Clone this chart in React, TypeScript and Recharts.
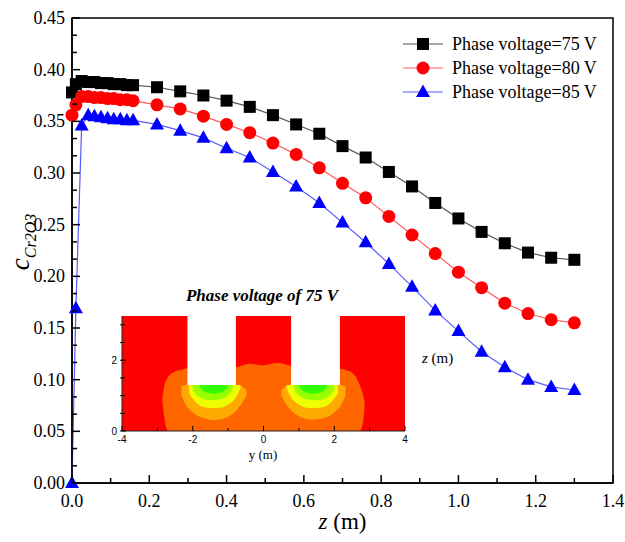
import React from 'react';
import { LineChart, Line, XAxis, YAxis, ReferenceArea, Legend, ComposedChart, Area } from 'recharts';

// main chart data
const zValues = [0, 0.01, 0.025, 0.042, 0.058, 0.075, 0.092, 0.108, 0.125, 0.142, 0.158,
  0.22, 0.28, 0.34, 0.4, 0.46, 0.52, 0.58, 0.64, 0.7, 0.76, 0.82, 0.88, 0.94, 1.0, 1.06, 1.12, 1.18, 1.24, 1.3];
const c75 = [0.378, 0.386, 0.389, 0.388, 0.388, 0.387, 0.387, 0.386, 0.386, 0.385, 0.385,
  0.383, 0.379, 0.375, 0.37, 0.364, 0.356, 0.347, 0.338, 0.326, 0.315, 0.301, 0.287, 0.271, 0.256, 0.243, 0.232, 0.223, 0.218, 0.216];
const c80 = [0.356, 0.366, 0.374, 0.374, 0.373, 0.373, 0.372, 0.372, 0.371, 0.371, 0.37,
  0.366, 0.362, 0.355, 0.347, 0.339, 0.329, 0.318, 0.305, 0.29, 0.276, 0.258, 0.24, 0.222, 0.204, 0.189, 0.174, 0.164, 0.158, 0.155];
const c85 = [0.0, 0.169, 0.346, 0.356, 0.355, 0.354, 0.353, 0.352, 0.352, 0.351, 0.351,
  0.347, 0.341, 0.334, 0.324, 0.315, 0.301, 0.287, 0.271, 0.252, 0.233, 0.212, 0.19, 0.167, 0.147, 0.127, 0.112, 0.1, 0.093, 0.09];
const seriesNames = ['Phase voltage=75 V', 'Phase voltage=80 V', 'Phase voltage=85 V'];

const xMajorTicks = [0, 0.2, 0.4, 0.6, 0.8, 1.0, 1.2, 1.4];
const yMajorTicks = [0, 0.05, 0.1, 0.15, 0.2, 0.25, 0.3, 0.35, 0.4, 0.45];

// inset contour regions (y in m, [z low, z high])
const insetRed = [{ x: -4, r: [0, 3.25] }, { x: 4, r: [0, 3.25] }];
const insetOrange = [
  { x: -2.86, r: [0.86, 0.9] }, { x: -2.8, r: [0.35, 1.3] }, { x: -2.7, r: [0, 1.52] },
  { x: -2.5, r: [0, 1.68] }, { x: -2.3, r: [0, 1.74] }, { x: -2.1, r: [0, 1.78] },
  { x: -0.8, r: [0, 1.8] }, { x: -0.4, r: [0, 1.9] }, { x: 0, r: [0, 1.86] },
  { x: 0.4, r: [0, 1.92] }, { x: 0.8, r: [0, 1.84] }, { x: 2.1, r: [0, 1.76] },
  { x: 2.35, r: [0, 1.72] }, { x: 2.6, r: [0, 1.55] }, { x: 2.72, r: [0, 1.3] },
  { x: 2.82, r: [0.3, 1.0] }, { x: 2.86, r: [0.7, 0.8] },
];
const amberLeft = [
  { x: -2.32, r: [1.0, 1.25] }, { x: -2.2, r: [0.75, 1.3] }, { x: -2.0, r: [0.52, 1.3] },
  { x: -1.7, r: [0.36, 1.3] }, { x: -1.4, r: [0.31, 1.3] }, { x: -1.1, r: [0.36, 1.3] },
  { x: -0.8, r: [0.55, 1.3] }, { x: -0.6, r: [0.8, 1.25] }, { x: -0.48, r: [1.0, 1.15] },
];
const amberRight = [
  { x: 0.5, r: [1.0, 1.15] }, { x: 0.62, r: [0.78, 1.25] }, { x: 0.82, r: [0.55, 1.3] },
  { x: 1.1, r: [0.37, 1.3] }, { x: 1.4, r: [0.32, 1.3] }, { x: 1.7, r: [0.36, 1.3] },
  { x: 2.0, r: [0.52, 1.3] }, { x: 2.2, r: [0.75, 1.3] }, { x: 2.32, r: [1.0, 1.25] },
];
const yellowLeft = [
  { x: -2.1, r: [1.05, 1.3] }, { x: -1.9, r: [0.8, 1.3] }, { x: -1.6, r: [0.66, 1.3] },
  { x: -1.3, r: [0.65, 1.3] }, { x: -1.0, r: [0.75, 1.3] }, { x: -0.75, r: [1.0, 1.3] }, { x: -0.65, r: [1.22, 1.3] },
];
const yellowRight = [
  { x: 0.65, r: [1.22, 1.3] }, { x: 0.75, r: [1.0, 1.3] }, { x: 1.0, r: [0.75, 1.3] },
  { x: 1.3, r: [0.65, 1.3] }, { x: 1.6, r: [0.66, 1.3] }, { x: 1.9, r: [0.8, 1.3] }, { x: 2.1, r: [1.05, 1.3] },
];
const limeLeft = [
  { x: -2.0, r: [1.15, 1.3] }, { x: -1.8, r: [0.95, 1.3] }, { x: -1.5, r: [0.87, 1.3] },
  { x: -1.2, r: [0.9, 1.3] }, { x: -0.95, r: [1.05, 1.3] }, { x: -0.85, r: [1.25, 1.3] },
];
const limeRight = [
  { x: 0.85, r: [1.25, 1.3] }, { x: 0.95, r: [1.05, 1.3] }, { x: 1.2, r: [0.9, 1.3] },
  { x: 1.5, r: [0.87, 1.3] }, { x: 1.8, r: [0.95, 1.3] }, { x: 2.0, r: [1.15, 1.3] },
];
const greenLeft = [
  { x: -1.8, r: [1.25, 1.3] }, { x: -1.65, r: [1.1, 1.3] }, { x: -1.4, r: [1.05, 1.3] },
  { x: -1.15, r: [1.1, 1.3] }, { x: -1.0, r: [1.28, 1.3] },
];
const greenRight = [
  { x: 1.0, r: [1.28, 1.3] }, { x: 1.15, r: [1.1, 1.3] }, { x: 1.4, r: [1.05, 1.3] },
  { x: 1.65, r: [1.1, 1.3] }, { x: 1.8, r: [1.25, 1.3] },
];
const slotLeft = [{ x: -2.15, r: [1.3, 3.3] }, { x: -0.78, r: [1.3, 3.3] }];
const slotRight = [{ x: 0.78, r: [1.3, 3.3] }, { x: 2.16, r: [1.3, 3.3] }];
const insetXTicks = [-4, -3, -2, -1, 0, 1, 2, 3, 4];
const insetYTicks = [0, 0.5, 1, 1.5, 2, 2.5, 3];

const data = zValues.map((z, i) => ({ z, v75: c75[i], v80: c80[i], v85: c85[i] }));

const xTicks = xMajorTicks.flatMap((t, i) => (i === 0 ? [t] : [(xMajorTicks[i - 1] + t) / 2, t]));
const yTicks = yMajorTicks.flatMap((t, i) => {
  if (i === 0) return [t];
  const p = yMajorTicks[i - 1];
  const d = (t - p) / 3;
  return [p + d, p + 2 * d, t];
});
const isIn = (v: number, list: number[]) => list.some((m) => Math.abs(m - v) < 1e-9);

const serif = 'Liberation Serif, serif';
const sans = 'Liberation Sans, sans-serif';

const XTick = (p: any) => {
  const major = isIn(p.payload.value, xMajorTicks);
  return (
    <g>
      <line x1={p.x} x2={p.x} y1={p.y} y2={p.y - (major ? 8 : 5)} stroke="#000" strokeWidth={1.5} />
      {major && (
        <text x={p.x} y={p.y + 24} textAnchor="middle" style={{ fontFamily: serif, fontSize: 18 }} fill="#000">
          {p.payload.value.toFixed(1)}
        </text>
      )}
    </g>
  );
};

const YTick = (p: any) => {
  const major = isIn(p.payload.value, yMajorTicks);
  return (
    <g>
      <line x1={p.x} x2={p.x + (major ? 8 : 5)} y1={p.y} y2={p.y} stroke="#000" strokeWidth={1.5} />
      {major && (
        <text x={p.x - 7} y={p.y + 6} textAnchor="end" style={{ fontFamily: serif, fontSize: 18 }} fill="#000">
          {p.payload.value.toFixed(2)}
        </text>
      )}
    </g>
  );
};

const InsetXTick = (p: any) => {
  const major = p.payload.value % 2 === 0;
  return (
    <g>
      <line x1={p.x} x2={p.x} y1={p.y} y2={p.y - (major ? 5 : 3)} stroke="#000" />
      {major && (
        <text x={p.x} y={p.y + 12} textAnchor="middle" style={{ fontFamily: sans, fontSize: 10 }} fill="#000">
          {p.payload.value}
        </text>
      )}
    </g>
  );
};

const InsetYTick = (p: any) => {
  const major = p.payload.value % 2 === 0;
  return (
    <g>
      <line x1={p.x - 2} x2={p.x + (major ? 4 : 3)} y1={p.y} y2={p.y} stroke="#000" />
      {major && (
        <text x={p.x - 5} y={p.y + 4} textAnchor="end" style={{ fontFamily: sans, fontSize: 10 }} fill="#000">
          {p.payload.value}
        </text>
      )}
    </g>
  );
};

const Square = (p: any) =>
  p.cx == null ? <g key={p.index} /> : <rect key={p.index} x={p.cx - 6} y={p.cy - 6} width={12} height={12} fill="#000" />;
const Circle = (p: any) =>
  p.cx == null ? <g key={p.index} /> : <circle key={p.index} cx={p.cx} cy={p.cy} r={6.5} fill="#ff0000" />;
const Triangle = (p: any) =>
  p.cx == null ? (
    <g key={p.index} />
  ) : (
    <polygon key={p.index} points={`${p.cx},${p.cy - 7.5} ${p.cx + 7},${p.cy + 5} ${p.cx - 7},${p.cy + 5}`} fill="#0000ff" />
  );

const lineColors = ['#555555', '#ff5a5a', '#5a5aff'];
const markerColors = ['#000000', '#ff0000', '#0000ff'];

const LegendBox = () => (
  <svg width={220} height={76}>
    {seriesNames.map((name, i) => {
      const y = 12 + i * 24;
      return (
        <g key={name}>
          <line x1={7} x2={47} y1={y} y2={y} stroke={lineColors[i]} strokeWidth={1.2} />
          {i === 0 && <rect x={21} y={y - 6} width={12} height={12} fill={markerColors[0]} />}
          {i === 1 && <circle cx={27} cy={y} r={6.5} fill={markerColors[1]} />}
          {i === 2 && <polygon points={`27,${y - 7.5} 34,${y + 5} 20,${y + 5}`} fill={markerColors[2]} />}
          <text x={56} y={y + 6} style={{ fontFamily: serif, fontSize: 18 }} fill="#000">
            {name}
          </text>
        </g>
      );
    })}
  </svg>
);

const XLabel = (p: any) => {
  const { x, y, width } = p.viewBox;
  return (
    <text x={x + width / 2} y={y + 46} textAnchor="middle" style={{ fontFamily: serif, fontSize: 23 }} fill="#000">
      <tspan fontStyle="italic">z</tspan> (m)
    </text>
  );
};

const YLabel = () => (
  <text transform="translate(29, 242) rotate(-90)" textAnchor="middle" style={{ fontFamily: serif }} fill="#000">
    <tspan fontStyle="italic" fontSize={27}>c</tspan>
    <tspan fontStyle="italic" fontSize={16} dy={7}>Cr2O3</tspan>
  </text>
);

const areaProps = {
  dataKey: 'r',
  stroke: 'none',
  fillOpacity: 1,
  isAnimationActive: false,
  dot: false,
  activeDot: false,
};

export default function App() {
  return (
    <div style={{ position: 'fixed', left: 0, top: 0, width: 625, height: 542, background: '#fff' }}>
      <LineChart width={625} height={542} data={data} margin={{ top: 18, right: 12, left: 0, bottom: 0 }}>
        <XAxis
          dataKey="z"
          type="number"
          domain={[0, 1.4]}
          ticks={xTicks}
          interval={0}
          tickSize={0}
          tickMargin={0}
          tickLine={false}
          tick={XTick}
          height={59}
          axisLine={{ stroke: '#000', strokeWidth: 1.5 }}
          label={{ content: XLabel }}
        />
        <YAxis
          type="number"
          domain={[0, 0.45]}
          ticks={yTicks}
          interval={0}
          tickSize={0}
          tickMargin={0}
          tickLine={false}
          tick={YTick}
          width={72}
          axisLine={{ stroke: '#000', strokeWidth: 1.5 }}
          label={{ content: YLabel }}
        />
        <ReferenceArea x1={0} x2={1.4} y1={0} y2={0.45} fill="none" stroke="#000" strokeWidth={1.5} />
        <Legend
          layout="vertical"
          align="center"
          verticalAlign="middle"
          content={LegendBox}
          wrapperStyle={{ top: 32, left: 396, width: 220, height: 76 }}
        />
        <Line dataKey="v75" name={seriesNames[0]} stroke={lineColors[0]} strokeWidth={1.2} dot={Square} activeDot={false} isAnimationActive={false} />
        <Line dataKey="v80" name={seriesNames[1]} stroke={lineColors[1]} strokeWidth={1.2} dot={Circle} activeDot={false} isAnimationActive={false} />
        <Line dataKey="v85" name={seriesNames[2]} stroke={lineColors[2]} strokeWidth={1.2} dot={Triangle} activeDot={false} isAnimationActive={false} />
      </LineChart>

      <div style={{ position: 'absolute', left: 92, top: 286 }}>
        <ComposedChart width={363} height={175} margin={{ top: 30, right: 50, left: 0, bottom: 0 }}>
          <XAxis
            dataKey="x"
            type="number"
            domain={[-4, 4]}
            ticks={insetXTicks}
            interval={0}
            tickSize={0}
            tickMargin={0}
            tickLine={false}
            tick={InsetXTick}
            height={30}
            allowDataOverflow
            axisLine={{ stroke: '#222' }}
          />
          <YAxis
            type="number"
            domain={[0, 3.25]}
            ticks={insetYTicks}
            interval={0}
            tickSize={0}
            tickMargin={0}
            tickLine={false}
            tick={InsetYTick}
            width={30}
            allowDataOverflow
            axisLine={{ stroke: '#222' }}
          />
          <Area {...areaProps} data={insetRed} type="linear" fill="#ff0000" />
          <Area {...areaProps} data={insetOrange} type="monotone" fill="#ff6600" />
          <Area {...areaProps} data={amberLeft} type="monotone" fill="#ffaa00" />
          <Area {...areaProps} data={amberRight} type="monotone" fill="#ffaa00" />
          <Area {...areaProps} data={yellowLeft} type="monotone" fill="#eeff00" />
          <Area {...areaProps} data={yellowRight} type="monotone" fill="#eeff00" />
          <Area {...areaProps} data={limeLeft} type="monotone" fill="#99ff00" />
          <Area {...areaProps} data={limeRight} type="monotone" fill="#99ff00" />
          <Area {...areaProps} data={greenLeft} type="monotone" fill="#33ff00" />
          <Area {...areaProps} data={greenRight} type="monotone" fill="#33ff00" />
          <Area {...areaProps} data={slotLeft} type="linear" fill="#ffffff" />
          <Area {...areaProps} data={slotRight} type="linear" fill="#ffffff" />
        </ComposedChart>
      </div>

      <div
        style={{
          position: 'absolute', left: 262, top: 296, transform: 'translate(-50%, -50%)', whiteSpace: 'nowrap',
          fontFamily: serif, fontSize: 17, fontWeight: 'bold', fontStyle: 'italic',
        }}
      >
        Phase voltage of 75 V
      </div>
      <div style={{ position: 'absolute', left: 422, top: 358, transform: 'translateY(-50%)', whiteSpace: 'nowrap', fontFamily: serif, fontSize: 15 }}>
        <i>z</i> (m)
      </div>
      <div
        style={{ position: 'absolute', left: 263, top: 455, transform: 'translate(-50%, -50%)', whiteSpace: 'nowrap', fontFamily: serif, fontSize: 13 }}
      >
        y (m)
      </div>
    </div>
  );
}
